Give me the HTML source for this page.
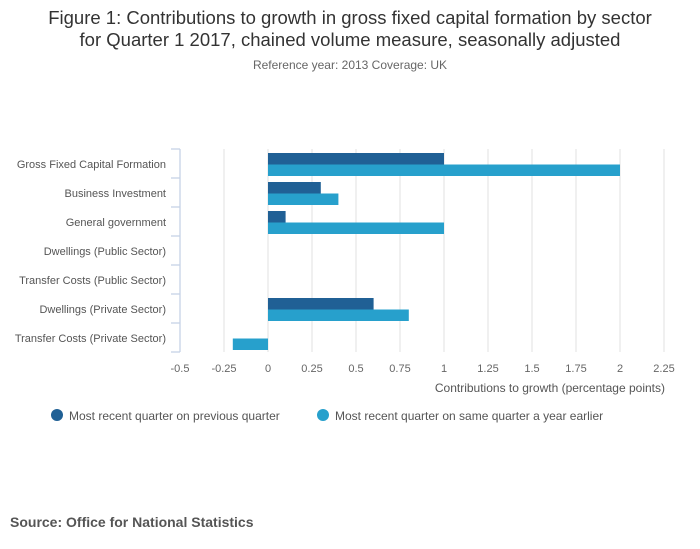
<!DOCTYPE html>
<html><head><meta charset="utf-8"><style>
body{margin:0;background:#fff;font-family:"Liberation Sans",sans-serif;}
#wrap{position:relative;width:700px;height:549px;overflow:hidden}
</style></head><body>
<div id="wrap">
<svg id="chart" width="700" height="549" xmlns="http://www.w3.org/2000/svg">
<text x="350" y="24" text-anchor="middle" font-size="18.5" fill="#333">Figure 1: Contributions to growth in gross fixed capital formation by sector</text>
<text x="350" y="46" text-anchor="middle" font-size="18.5" fill="#333">for Quarter 1 2017, chained volume measure, seasonally adjusted</text>
<text x="350" y="69" text-anchor="middle" font-size="12" fill="#666">Reference year: 2013 Coverage: UK</text>
<g id="grid"></g><g id="bars"></g><g id="axes"></g>
<text x="665" y="392" text-anchor="end" font-size="12" fill="#555">Contributions to growth (percentage points)</text>
<g>
<circle cx="57" cy="415" r="6" fill="#206095"/>
<text x="69" y="420" font-size="12" fill="#555">Most recent quarter on previous quarter</text></g>
<g>
<circle cx="323" cy="415" r="6" fill="#27a0cc"/>
<text x="335" y="420" font-size="12" fill="#555">Most recent quarter on same quarter a year earlier</text></g>
<text x="10" y="527" font-size="14" font-weight="bold" fill="#555">Source: Office for National Statistics</text>
</svg></div>
<script>
const categories=["Gross Fixed Capital Formation","Business Investment","General government","Dwellings (Public Sector)","Transfer Costs (Public Sector)","Dwellings (Private Sector)","Transfer Costs (Private Sector)"];
const seriesPrevQuarter=[1,0.3,0.1,0,0,0.6,0];
const seriesYearEarlier=[2,0.4,1,0,0,0.8,-0.2];
const tickValues=[-0.5,-0.25,0,0.25,0.5,0.75,1,1.25,1.5,1.75,2,2.25];
const tickLabels=["-0.5","-0.25","0","0.25","0.5","0.75","1","1.25","1.5","1.75","2","2.25"];
const NS="http://www.w3.org/2000/svg";
const x0=180,x1=664,vmin=-0.5,vmax=2.25,plotTop=149,rowH=29;
const xs=v=>x0+(v-vmin)/(vmax-vmin)*(x1-x0);
function mk(t,a,p){const e=document.createElementNS(NS,t);for(const k in a)e.setAttribute(k,a[k]);p.appendChild(e);return e;}
const grid=document.getElementById('grid'),bars=document.getElementById('bars'),axes=document.getElementById('axes');
const plotBottom=plotTop+rowH*categories.length;
tickValues.forEach((v,i)=>{
 const g=mk('line',{x1:xs(v),x2:xs(v),y1:plotTop,y2:plotBottom,stroke:'#e2e2e2','stroke-width':1},grid);
 
 
 const t=mk('text',{x:xs(v),y:plotBottom+20,'text-anchor':'middle','font-size':11,fill:'#666'},axes);
 t.textContent=tickLabels[i];
 
 
});
const ax=mk('line',{x1:x0,x2:x0,y1:plotTop,y2:plotBottom,stroke:'#c6d3e6','stroke-width':1.3},axes);


for(let i=0;i<=categories.length;i++){
 const tk=mk('line',{x1:x0-9,x2:x0,y1:plotTop+i*rowH,y2:plotTop+i*rowH,stroke:'#c6d3e6','stroke-width':1.3},axes);
 
 
}
categories.forEach((c,i)=>{
 const yc=plotTop+i*rowH;
 const t=mk('text',{x:166,y:yc+19,'text-anchor':'end','font-size':11,fill:'#555'},axes);
 t.textContent=c;
 
 
 [[seriesPrevQuarter[i],'#206095',4],[seriesYearEarlier[i],'#27a0cc',15.5]].forEach(([v,col,off],j)=>{
  if(v===0)return;
  const a=xs(Math.min(0,v)),b=xs(Math.max(0,v));
  const r=mk('rect',{x:a,y:yc+off,width:b-a,height:11.5,fill:col},bars);
  
  
 });
});
</script>
</body></html>
